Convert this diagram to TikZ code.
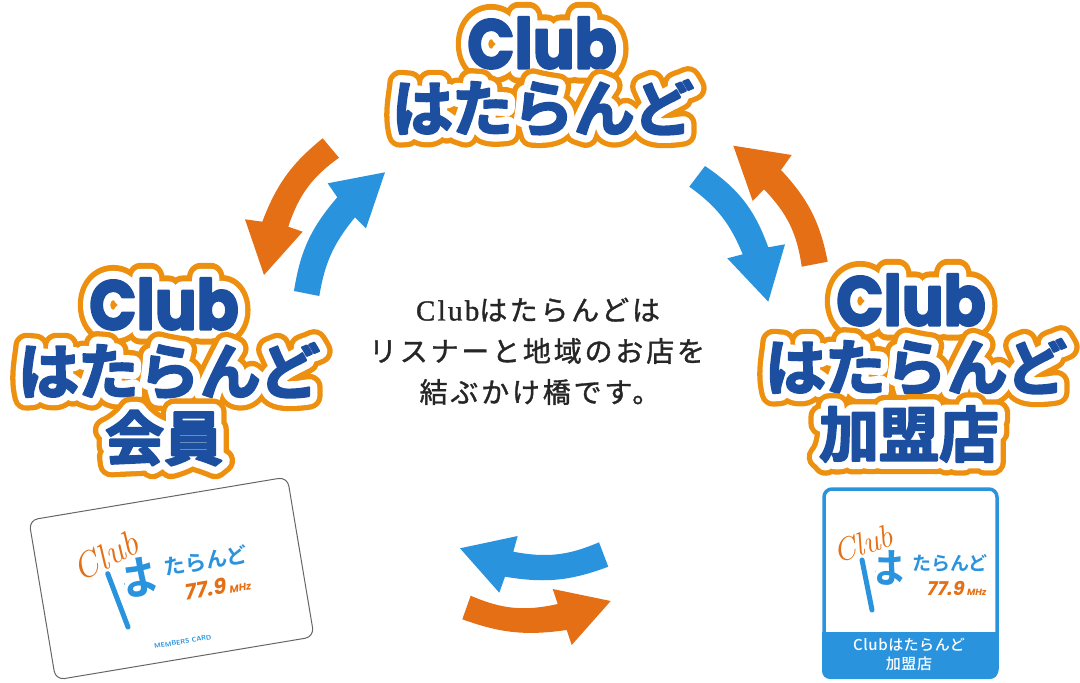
\documentclass[tikz,border=0pt]{standalone}
\usepackage{fontspec}
\usepackage{tikz}
\newfontfamily\cjkbold{Noto Sans CJK JP Bold}
\newfontfamily\cjkplain[LetterSpace=10]{Noto Sans CJK JP}
\newfontfamily\cjksmall[LetterSpace=4]{Noto Sans CJK JP Medium}
\newfontfamily\latinbold{Poppins Bold}
\newfontfamily\latinslant[FakeSlant=0.2]{Poppins Bold}
\newfontfamily\latinserif[LetterSpace=8]{Liberation Serif}
\definecolor{clubblue}{HTML}{1D4FA1}
\definecolor{rimorange}{HTML}{EE900F}
\definecolor{arroworange}{HTML}{E56F14}
\definecolor{arrowblue}{HTML}{2A93DE}
\tikzset{
    fatorange/.style={fill=arroworange,draw=none},
    fatblue/.style={fill=arrowblue,draw=none},
    titlerim/.style={text=rimorange,inner sep=0pt},
    titlehalo/.style={text=white,inner sep=0pt},
    titletop/.style={text=clubblue,inner sep=0pt},
    bodytext/.style={text=black!85,inner sep=0pt,font=\cjkplain\fontsize{28}{28}\selectfont},
    cardedge/.style={draw=black!60,fill=white,rounded corners=9pt,line width=1pt}
}
\newcommand{\strokedtext}[2]{\special{pdf:code 2 Tr #1 w 1 j 1 J}#2\special{pdf:code 0 Tr}}
% title with its two rims
\newcommand{\clubtitle}[3]{%
    \node[titlerim] (#2rim) at (#1) {\strokedtext{27}{#3}};
    \node[titlehalo] (#2halo) at (#1) {\strokedtext{16.5}{#3}};
    \node[titletop] (#2) at (#1) {\strokedtext{2}{#3}};
}
\newcommand{\clubword}{\scalebox{1}[1.12]{\latinbold\fontsize{62}{62}\selectfont Club}}
\newcommand{\hataword}{{\cjkbold\fontsize{61}{61}\selectfont はたらんど}}
\newcommand{\logomark}[1]{%
    \begin{scope}
        \clip (-33,-30) rectangle (10,30);
        \node[text=arrowblue,inner sep=0pt] (#1ha) at (-25,0) {\cjkbold\fontsize{42}{42}\selectfont は};
    \end{scope}
    \node[text=arroworange,inner sep=0pt,rotate=18] (#1club) at (-45,-24) {\itshape\fontsize{32}{32}\selectfont Club};
    \node[text=arrowblue,inner sep=0pt] (#1rest) at (42,-5) {\cjkbold\fontsize{19}{19}\selectfont たらんど};
    \node[text=arroworange,inner sep=0pt] (#1freq) at (48,20) {\latinslant\fontsize{19}{19}\selectfont 77.9\,\fontsize{9}{9}\selectfont MHz};
    \draw[arrowblue,line width=5pt,line cap=round] (-46,-8) -- (-36,42);
}
\begin{document}
\begin{tikzpicture}[x=1pt,y=-1pt]
    \useasboundingbox (0,0) rectangle (1080,683);

    % cards
    \begin{scope}[shift={(171.5,578.5)},rotate=9.5]
        \path[cardedge] (-131,-81) rectangle (131,81);
    \end{scope}
    \begin{scope}[shift={(160,574)},rotate=9.5,scale=1.12,transform shape]
        \logomark{card}
        \node[text=arrowblue,inner sep=0pt] (cardnote) at (10,63) {\bfseries\sffamily\fontsize{6}{6}\selectfont MEMBERS CARD};
    \end{scope}
    \path[draw=arrowblue,fill=white,line width=3.5pt,rounded corners=8pt] (824,489) rectangle (997,677);
    \path[fill=arrowblue,rounded corners=8pt] (822,640) rectangle (998,679);
    \fill[arrowblue] (822,632) rectangle (998,650);
    \begin{scope}[shift={(908,568)}]
        \logomark{shop}
    \end{scope}
    \node[text=white,inner sep=0pt] (shopnote) at (909,645) {\cjksmall\fontsize{15}{15}\selectfont Clubはたらんど};
    \node[text=white,inner sep=0pt] (shopkind) at (909,664) {\cjksmall\fontsize{15}{15}\selectfont 加盟店};

    % titles
    \clubtitle{542,43}{topclub}{\clubword}
    \clubtitle{543,108}{tophata}{\hataword}
    \clubtitle{164,304}{leftclub}{\clubword}
    \clubtitle{169,371}{lefthata}{\hataword}
    \clubtitle{164,438}{leftkai}{{\cjkbold\fontsize{59}{59}\selectfont 会員}}
    \clubtitle{911,300}{rightclub}{\clubword}
    \clubtitle{916,367}{righthata}{\hataword}
    \clubtitle{909,434}{rightkamei}{{\cjkbold\fontsize{60}{60}\selectfont 加盟店}}

    % arrows
    \path[fatorange] (322.7,138.3) to[bend right=15] (262.3,221.7) -- (245,219.3) -- (264,275) -- (302.7,231.7) -- (288.3,226.7) to[bend left=18] (339,157.7) -- cycle;
    \path[fatblue] (294,291) to[bend left=16] (337.3,197.3) -- (327.7,183.3) -- (385,172.3) -- (366,228.3) -- (355,217.3) to[bend right=15] (319.3,296) -- cycle;
    \path[fatblue] (705,166) to[bend left=18] (768.3,247.3) -- (785,244.3) -- (768.3,301.7) -- (727.3,258.3) -- (742.7,254.3) to[bend right=16] (689.3,186.7) -- cycle;
    \path[fatorange] (801.7,266.7) to[bend right=18] (764,189.3) -- (752.7,201) -- (733.3,145.7) -- (791.7,155) -- (781,170) to[bend left=16] (827.7,261.7) -- cycle;
    \path[fatblue] (599,542.3) to[bend left=17] (513.3,551.7) -- (517.7,536) -- (460,548.3) -- (499.3,592.7) -- (505,576.7) to[bend right=15] (608.3,566.7) -- cycle;
    \path[fatorange] (470.7,595.7) to[bend right=18] (557.7,604) -- (552.7,589) -- (610.7,601) -- (571.7,645) -- (566.7,630) to[bend left=14] (462.3,619.3) -- cycle;

    % middle text
    \node[bodytext] (line1) at (538,310) {\strokedtext{0.35}{{\latinserif\fontsize{29}{29}\selectfont Club}はたらんどは}};
    \node[bodytext] (line2) at (537,351) {\strokedtext{0.35}{リスナーと地域のお店を}};
    \node[bodytext] (line3) at (540,392) {\strokedtext{0.35}{結ぶかけ橋です。}};
\end{tikzpicture}
\end{document}
